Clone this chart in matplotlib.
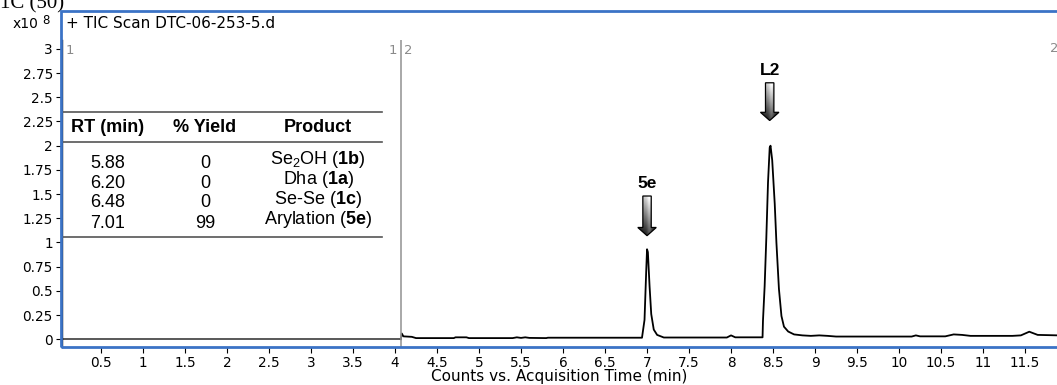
import numpy as np
import matplotlib
matplotlib.use("Agg")
import matplotlib.pyplot as plt
from matplotlib.patches import Polygon, Rectangle
from matplotlib.lines import Line2D

plt.rcParams['font.family'] = ['DejaVu Sans']
plt.rcParams['mathtext.fontset'] = 'custom'
plt.rcParams['mathtext.rm'] = 'Liberation Sans'
plt.rcParams['mathtext.bf'] = 'Liberation Sans:bold'
plt.rcParams['mathtext.it'] = 'Liberation Sans:italic'

# chromatogram trace, segment 1 (detector off) and segment 2
seg1_time = [0.036, 4.07]
seg1_counts = [0.0, 0.0]

seg2_time = [4.07, 4.08, 4.10, 4.20, 4.25, 4.70, 4.72, 4.85, 4.88, 5.40, 5.45,
             5.50, 5.55, 5.60, 5.80, 5.82, 6.94, 6.97, 6.99, 7.00, 7.01, 7.03,
             7.05, 7.08, 7.12, 7.20, 7.95, 8.00, 8.05, 8.375, 8.38, 8.40, 8.42,
             8.44, 8.46, 8.47, 8.49, 8.52, 8.54, 8.57, 8.60, 8.63, 8.68, 8.75,
             8.85, 8.95, 9.05, 9.15, 9.25, 10.15, 10.20, 10.25, 10.55, 10.65,
             10.75, 10.85, 11.35, 11.45, 11.55, 11.65, 11.90]
seg2_counts = [0.0, 0.06, 0.03, 0.025, 0.012, 0.012, 0.02, 0.02, 0.012, 0.012,
               0.02, 0.014, 0.02, 0.014, 0.012, 0.016, 0.016, 0.2, 0.7, 0.93,
               0.9, 0.55, 0.26, 0.1, 0.045, 0.018, 0.018, 0.04, 0.02, 0.02, 0.19,
               0.55, 1.05, 1.62, 1.98, 2.0, 1.85, 1.4, 1.0, 0.52, 0.24, 0.13,
               0.08, 0.05, 0.04, 0.035, 0.04, 0.035, 0.028, 0.028, 0.04, 0.03,
               0.03, 0.05, 0.045, 0.035, 0.035, 0.04, 0.078, 0.045, 0.04]

# peak annotations
peak_labels = ['5e', 'L2']
peak_times = [7.0, 8.46]
peak_arrow_tops = [1.48, 2.65]
peak_arrow_tips = [1.07, 2.26]

# inset table
table_header = ['RT (min)', '% Yield', 'Product']
rt_values = ['5.88', '6.20', '6.48', '7.01']
yield_values = ['0', '0', '0', '99']
product_names = [r'Se$_2$OH ($\mathbf{1b}$)', r'Dha ($\mathbf{1a}$)',
                 r'Se-Se ($\mathbf{1c}$)', r'Arylation ($\mathbf{5e}$)']

W, H = 1057, 385
fig = plt.figure(figsize=(W / 100, H / 100), dpi=100)


def fx(px):
    return px / W


def fy(py):
    return 1 - py / H


ax = fig.add_axes([fx(62), fy(347), 1 - fx(62), fy(40) - fy(347)])
ax.plot(seg1_time, seg1_counts, color='#3c3c3c', lw=1.2)
ax.plot(seg2_time, seg2_counts, color='black', lw=1.3)
ax.axvline(4.07, color='#9a9a9a', lw=1.2)

ax.set_xticks(np.arange(0.5, 11.6, 0.5))
ax.set_xticklabels(['{:g}'.format(t) for t in np.arange(0.5, 11.6, 0.5)])
ax.set_yticks(np.arange(0, 3.01, 0.25))
ax.set_yticklabels(['{:g}'.format(t) for t in np.arange(0, 3.01, 0.25)])
ax.tick_params(axis='both', labelsize=9.8, length=4.5, width=0.8, pad=2)
ax.spines['top'].set_visible(False)
ax.spines['right'].set_visible(False)
ax.spines['bottom'].set_visible(False)
ax.spines['left'].set_linewidth(1.0)

# segment markers
ax.text(0.08, 2.98, '1', color='#8a8a8a', fontsize=9.5, va='center')
ax.text(4.03, 2.98, '1', color='#8a8a8a', fontsize=9.5, va='center', ha='right')
ax.text(4.11, 2.98, '2', color='#8a8a8a', fontsize=9.5, va='center')
fig.text(fx(1050), fy(49), '2', color='#8a8a8a', fontsize=9.5, va='center')


def draw_arrow(x, y_top, y_tip):
    sw = 0.05
    hw = 0.11
    hl = 0.085
    pts = [(x - sw, y_top), (x + sw, y_top), (x + sw, y_tip + hl),
           (x + hw, y_tip + hl), (x, y_tip), (x - hw, y_tip + hl),
           (x - sw, y_tip + hl)]
    poly = Polygon(pts, closed=True, facecolor='none', edgecolor='black',
                   lw=0.9, zorder=4)
    ax.add_patch(poly)
    v = np.linspace(0, 1, 40)[:, None]
    u = np.linspace(0, 1, 20)[None, :]
    shade = 0.85 - 0.72 * v + 0.2 * np.exp(-((u - 0.62) / 0.12) ** 2) - 0.2 * np.abs(u - 0.5)
    img = ax.imshow(np.clip(shade, 0, 1), cmap='gray', vmin=0, vmax=1,
                    extent=(x - hw, x + hw, y_tip, y_top), aspect='auto',
                    zorder=3, interpolation='bilinear')
    img.set_clip_path(poly)


for lab, t, top, tip in zip(peak_labels, peak_times, peak_arrow_tops, peak_arrow_tips):
    draw_arrow(t, top, tip)
    ax.text(t, top + 0.13, lab, ha='center', va='center', fontsize=12.5,
            fontweight='bold', family='Liberation Sans')

ax.set_xlim(0.036, 11.88)
ax.set_ylim(-0.08, 3.092)

# blue selection frame
fig.add_artist(Rectangle((fx(61), fy(347)), 1.2, fy(11) - fy(347),
                         transform=fig.transFigure, fill=False,
                         edgecolor='#3b73c6', lw=2.0, zorder=10))

fig.text(fx(559), fy(377), 'Counts vs. Acquisition Time (min)', ha='center',
         va='center', fontsize=11)
fig.text(fx(66), fy(23), '+ TIC Scan DTC-06-253-5.d', ha='left', va='center',
         fontsize=11)
fig.text(fx(38), fy(24), 'x10', ha='right', va='center', fontsize=10)
fig.text(fx(42), fy(20), '8', ha='left', va='center', fontsize=8.5)
fig.text(fx(0), fy(8), '1C (50)', ha='left', va='baseline', fontsize=15,
         family='Liberation Serif')

# inset table
for ly in [111.7, 142.3, 236.7]:
    fig.add_artist(Line2D([fx(62), fx(382)], [fy(ly), fy(ly)],
                          transform=fig.transFigure, color='#555555', lw=1.2))

col_x = [108, 205, 318]
for cx, head in zip(col_x, table_header):
    fig.text(fx(cx), fy(128), head, ha='center', va='center', fontsize=13,
             fontweight='bold', family='Liberation Sans')

row_y = [163, 183, 203, 223]
for ry, rt, yl, prod in zip(row_y, rt_values, yield_values, product_names):
    fig.text(fx(col_x[0]), fy(ry), rt, ha='center', va='center', fontsize=13,
             family='Liberation Sans')
    fig.text(fx(col_x[1]), fy(ry), yl, ha='center', va='center', fontsize=13,
             family='Liberation Sans')
    fig.text(fx(col_x[2]), fy(ry - 3), prod, ha='center', va='center',
             fontsize=13, family='Liberation Sans')

fig.savefig('out.png', dpi=100)
